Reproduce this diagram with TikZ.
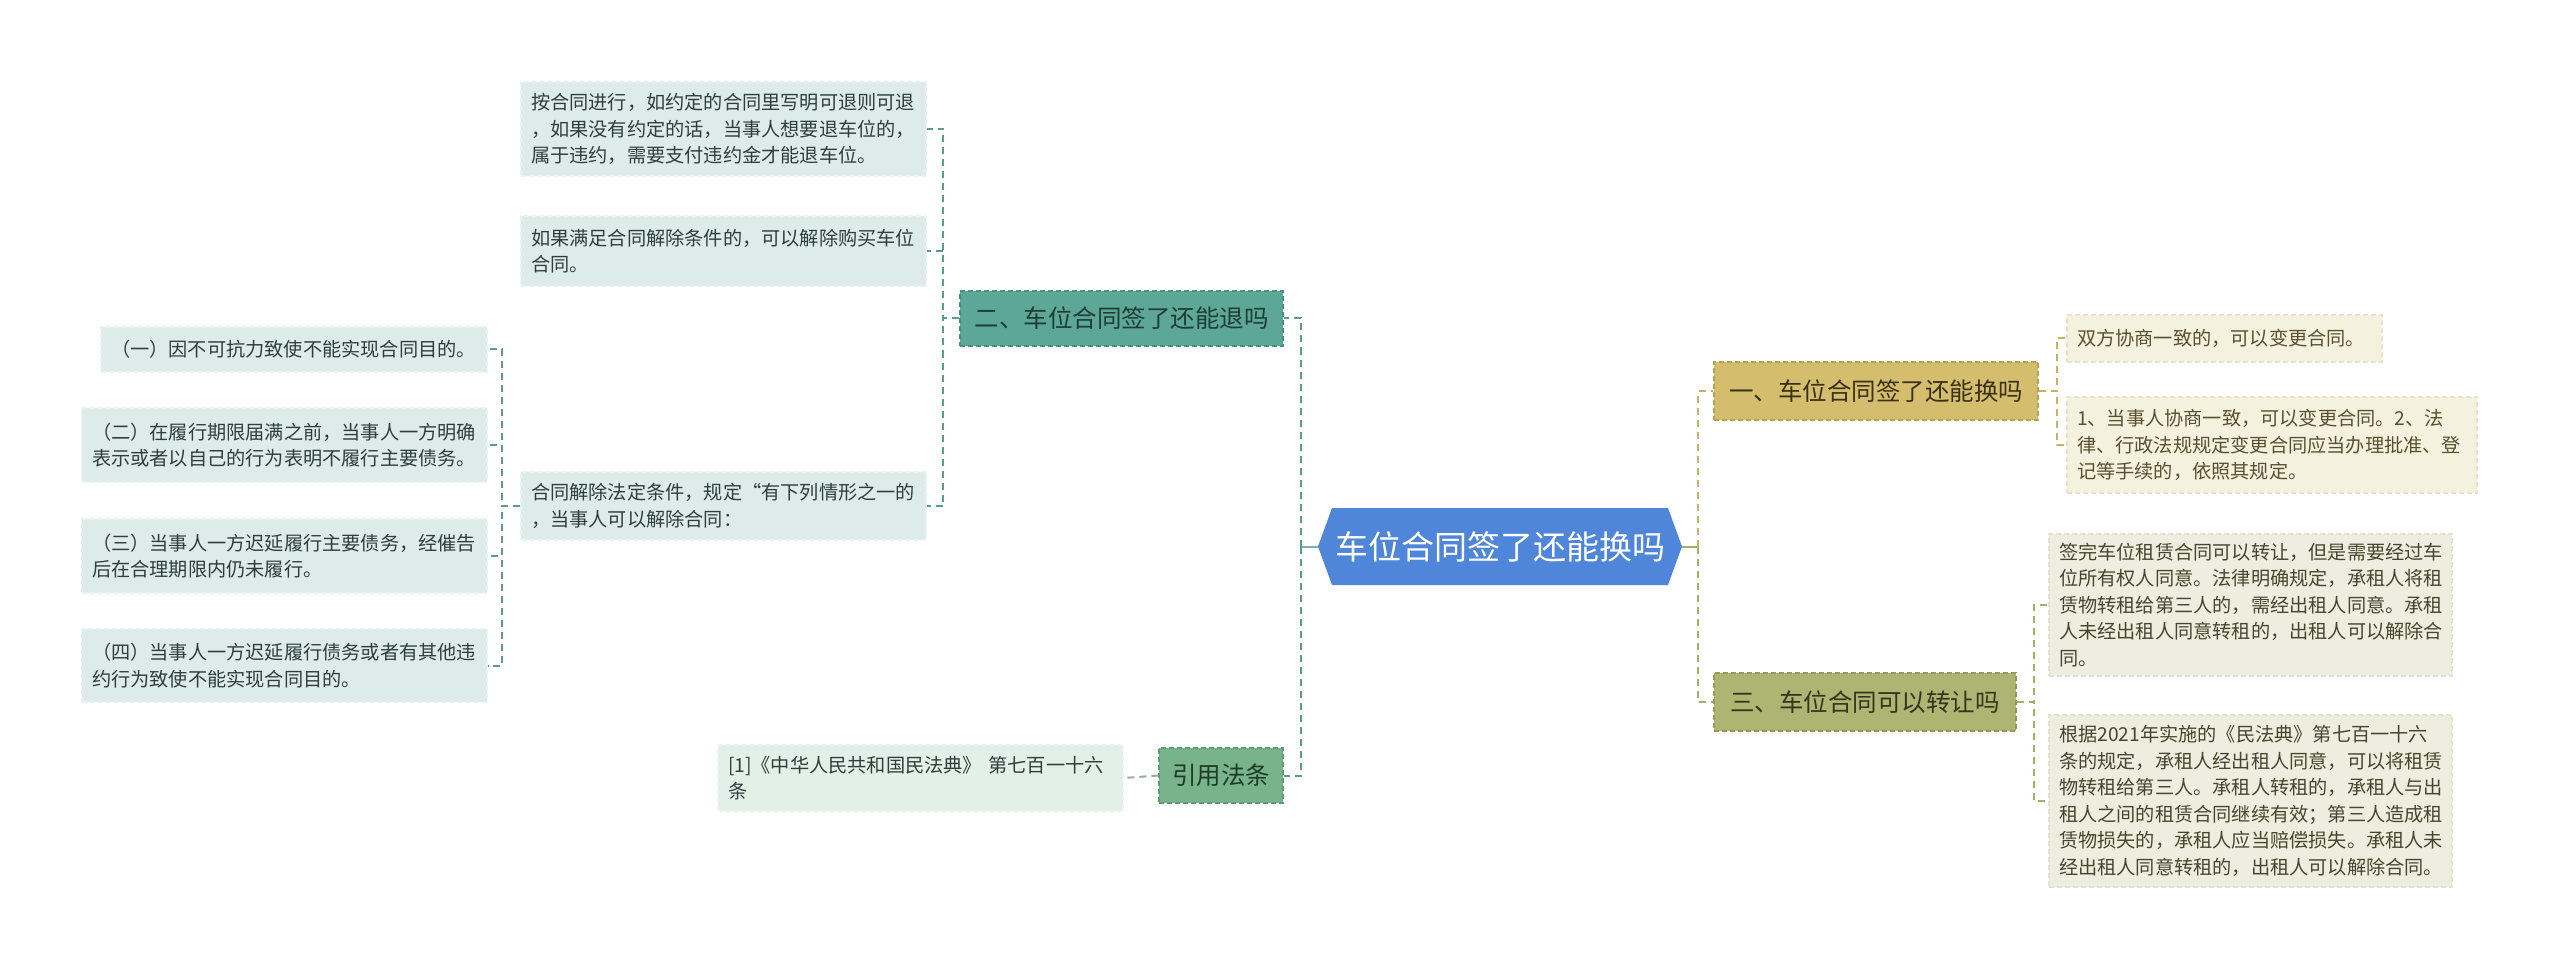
\documentclass[tikz,border=0pt]{standalone}
\usepackage{fontspec}
\setmainfont{Noto Sans CJK SC}
\usetikzlibrary{shapes.symbols}
\definecolor{rootblue}{HTML}{4F86D9}
\definecolor{tealfill}{HTML}{5CA797}
\definecolor{tealdraw}{HTML}{4A8F80}
\definecolor{tealtext}{HTML}{1E3D36}
\definecolor{tleaffill}{HTML}{DDECE9}
\definecolor{tleafdraw}{HTML}{E8F2F0}
\definecolor{tleaftext}{HTML}{2D3F3B}
\definecolor{citefill}{HTML}{78B38C}
\definecolor{citedraw}{HTML}{5E9A73}
\definecolor{citetext}{HTML}{1E3A28}
\definecolor{cleaffill}{HTML}{E3EFE9}
\definecolor{cleafdraw}{HTML}{EDF5F1}
\definecolor{goldfill}{HTML}{D4BE6E}
\definecolor{golddraw}{HTML}{B8A150}
\definecolor{goldtext}{HTML}{3A3015}
\definecolor{gleaffill}{HTML}{F5F1DF}
\definecolor{gleafdraw}{HTML}{E9E3C8}
\definecolor{gleaftext}{HTML}{5A5030}
\definecolor{olivefill}{HTML}{AEB472}
\definecolor{olivedraw}{HTML}{969C58}
\definecolor{olivetext}{HTML}{33361B}
\definecolor{oleaffill}{HTML}{EEEEE0}
\definecolor{oleafdraw}{HTML}{E3E3D0}
\definecolor{oleaftext}{HTML}{46462E}
\definecolor{lconncol}{HTML}{5C9C8C}
\definecolor{cconncol}{HTML}{8FB09C}
\definecolor{gconncol}{HTML}{C9B35E}
\definecolor{oconncol}{HTML}{A9AE66}
\tikzset{
  rootnode/.style={shape=signal, signal to=west and east, signal pointer angle=140,
    fill=rootblue, text=white, font=\fontsize{33}{33}\selectfont,
    minimum width=364pt, minimum height=77pt, inner xsep=2pt, inner ysep=0pt},
  branch/.style={draw, line width=1.2pt, dash pattern=on 5pt off 3pt,
    font=\fontsize{24.5}{24.5}\selectfont, inner sep=0pt, minimum height=55pt, align=center},
  leaf/.style={draw, line width=1.2pt, dash pattern=on 5pt off 3pt,
    font=\fontsize{19.2}{26.5}\selectfont, inner xsep=10pt, inner ysep=0pt, align=left},
  tbranch/.style={branch, fill=tealfill, draw=tealdraw, text=tealtext},
  cbranch/.style={branch, fill=citefill, draw=citedraw, text=citetext},
  gbranch/.style={branch, fill=goldfill, draw=golddraw, text=goldtext},
  obranch/.style={branch, fill=olivefill, draw=olivedraw, text=olivetext},
  tleaf/.style={leaf, fill=tleaffill, draw=tleafdraw, text=tleaftext},
  cleaf/.style={leaf, fill=cleaffill, draw=cleafdraw, text=tleaftext},
  gleaf/.style={leaf, fill=gleaffill, draw=gleafdraw, text=gleaftext},
  oleaf/.style={leaf, fill=oleaffill, draw=oleafdraw, text=oleaftext},
  conn/.style={line width=2pt, dash pattern=on 7pt off 5pt},
  lconn/.style={conn, draw=lconncol},
  cconn/.style={conn, draw=cconncol},
  gconn/.style={conn, draw=gconncol},
  oconn/.style={conn, draw=oconncol},
}
\begin{document}
\begin{tikzpicture}[x=1pt,y=-1pt]
\fill[white] (0,0) rectangle (2560,968);
\useasboundingbox (0,0) rectangle (2560,968);

% root
\node[rootnode] (root) at (1500,546.5) {车位合同签了还能换吗};

% left branches
\node[tbranch, minimum width=323pt] (b2) at (1121.5,318.5) {二、车位合同签了还能退吗};
\node[cbranch, minimum width=124pt] (cite) at (1221,775.5) {引用法条};

\node[tleaf, text width=385pt, minimum height=94pt] (c1) at (723.5,129)
  {按合同进行，如约定的合同里写明可退则可退\\，如果没有约定的话，当事人想要退车位的，\\属于违约，需要支付违约金才能退车位。};
\node[tleaf, text width=385pt, minimum height=70pt] (c2) at (723.5,251)
  {如果满足合同解除条件的，可以解除购买车位\\合同。};
\node[tleaf, text width=385pt, minimum height=68pt] (c3) at (723.5,506)
  {合同解除法定条件，规定“有下列情形之一的\\，当事人可以解除合同：};

\node[tleaf, text width=366pt, minimum height=45pt] (s1) at (294,349.5)
  {（一）因不可抗力致使不能实现合同目的。};
\node[tleaf, text width=385pt, minimum height=74pt] (s2) at (284.5,445)
  {（二）在履行期限届满之前，当事人一方明确\\表示或者以自己的行为表明不履行主要债务。};
\node[tleaf, text width=385pt, minimum height=74pt] (s3) at (284.5,556)
  {（三）当事人一方迟延履行主要债务，经催告\\后在合理期限内仍未履行。};
\node[tleaf, text width=385pt, minimum height=73pt] (s4) at (284.5,665.5)
  {（四）当事人一方迟延履行债务或者有其他违\\约行为致使不能实现合同目的。};

\node[cleaf, text width=385pt, minimum height=66pt] (citec) at (920.5,778)
  {[1]《中华人民共和国民法典》 第七百一十六\\条};

% right branches
\node[gbranch, minimum width=324pt, minimum height=58pt] (b1) at (1876,391) {一、车位合同签了还能换吗};
\node[obranch, minimum width=302pt, minimum height=58pt] (b3) at (1865,702) {三、车位合同可以转让吗};

\node[gleaf, text width=295pt, minimum height=47pt] (g1) at (2224.5,338.5)
  {双方协商一致的，可以变更合同。};
\node[gleaf, text width=390pt, minimum height=96pt] (g2) at (2272,445)
  {1、当事人协商一致，可以变更合同。2、法\\律、行政法规规定变更合同应当办理批准、登\\记等手续的，依照其规定。};

\node[oleaf, text width=383pt, minimum height=142pt] (o1) at (2250.5,605)
  {签完车位租赁合同可以转让，但是需要经过车\\位所有权人同意。法律明确规定，承租人将租\\赁物转租给第三人的，需经出租人同意。承租\\人未经出租人同意转租的，出租人可以解除合\\同。};
\node[oleaf, text width=383pt, minimum height=172pt] (o2) at (2250.5,801)
  {根据2021年实施的《民法典》第七百一十六\\条的规定，承租人经出租人同意，可以将租赁\\物转租给第三人。承租人转租的，承租人与出\\租人之间的租赁合同继续有效；第三人造成租\\赁物损失的，承租人应当赔偿损失。承租人未\\经出租人同意转租的，出租人可以解除合同。};

% connectors left
\draw[line width=2pt, draw=lconncol!80!white] (root.west) -- ++(-17,0) coordinate (lt);
\draw[lconn] (lt) |- (b2.east);
\draw[lconn] (lt) |- (cite.east);

\draw[lconn] (b2.west) -- ++(-16,0) |- (c1.east);
\draw[lconn] (b2.west) -- ++(-16,0) |- (c2.east);
\draw[lconn] (b2.west) -- ++(-16,0) |- (c3.east);

\draw[lconn] (c3.west) -- ++(-18,0) |- (s1.east);
\draw[lconn] (c3.west) -- ++(-18,0) |- (s2.east);
\draw[lconn] (c3.west) -- ++(-18,0) |- (s3.east);
\draw[lconn] (c3.west) -- ++(-18,0) |- (s4.east);

\draw[cconn] (cite.west) -- (citec.east);

% connectors right
\draw[line width=2pt, draw=oconncol] (root.east) -- ++(16,0) coordinate (rt);
\draw[gconn] (rt) |- (b1.west);
\draw[oconn] (rt) |- (b3.west);

\draw[gconn] (b1.east) -- ++(18,0) |- (g1.west);
\draw[gconn] (b1.east) -- ++(18,0) |- (g2.west);

\draw[oconn] (b3.east) -- ++(17,0) |- (o1.west);
\draw[oconn] (b3.east) -- ++(17,0) |- (o2.west);
\end{tikzpicture}
\end{document}
